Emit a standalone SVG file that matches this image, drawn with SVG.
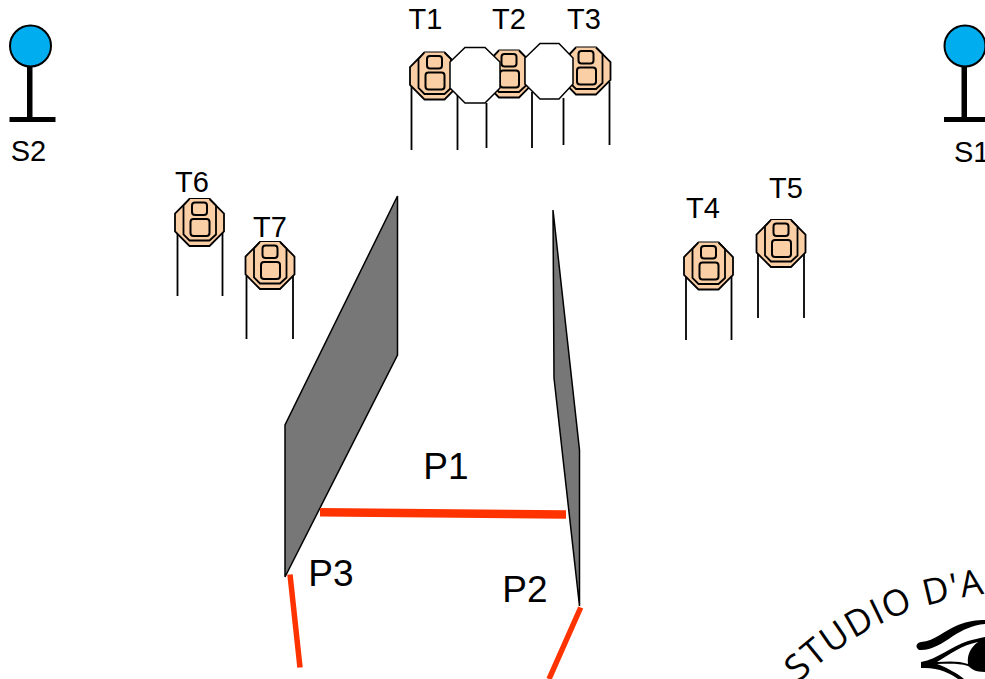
<svg xmlns="http://www.w3.org/2000/svg" width="985" height="679" viewBox="0 0 985 679">
<style>
text{font-family:"Liberation Sans",Arial,sans-serif;fill:#000}
.l{font-size:29px;text-anchor:middle}
.p{font-size:37px;text-anchor:middle}
.leg{stroke:#000;stroke-width:1.8;fill:none}
.sh{fill:#00aeef;stroke:#000;stroke-width:2}
.o{fill:#fbcfa5;stroke:#000;stroke-width:1.8}
.oct{fill:#fff;stroke:#000;stroke-width:1.5}
.red{stroke:#ff3300;fill:none}
.pan{fill:#777;stroke:#000;stroke-width:1.5}
</style>
<defs>
<g id="tom">
<polygon class="o" points="-10,-23.500 10,-23.500 24.500,-9 24.500,9 10,23.500 -10,23.500 -24.500,9 -24.500,-9"/>
<polyline class="o" points="-10,-23.500 -16,-17 -16,12 -10,18 10,18 16.500,12 16.500,-17 10,-23.500"/>
<rect class="o" x="-7.500" y="-20" width="15" height="12.500" rx="3" style="stroke-width:2"/>
<rect class="o" x="-9" y="-3.500" width="19" height="17" rx="3" style="stroke-width:2"/>
</g>
<g id="stand">
<circle class="sh" cx="0" cy="0" r="20.500"/>
<rect x="-3.500" y="20" width="5.500" height="53"/>
<rect x="-21" y="71" width="46" height="5"/>
</g>
<path id="arc" d="M792 690 C825 655 860 632 900 615 C925 604 960 597 1010 590 L1080 585"/>
</defs>
<g id="connectors">
<path class="leg" d="M411.500 85V150M457.500 94V150M486.500 103V148M532 92V148M563.500 98V145M609.500 82V145M177.500 233V296M222.500 233V296M246.500 276V339M293 276V339M686 276V340M731.500 276V340M758 254V318M804 254V318"/>
</g>
<g id="T1"><use href="#tom" x="434.500" y="76"/><text class="l" x="425.500" y="29">T1</text></g>
<g id="T2"><use href="#tom" x="509" y="74"/><text class="l" x="509" y="29">T2</text></g>
<g id="T3"><use href="#tom" x="586" y="71"/><text class="l" x="584" y="29">T3</text></g>
<g id="O1"><polygon class="oct" points="465,47.500 485,47.500 500,62 500,88 485,103 465,103 450,88 450,62"/></g>
<g id="O2"><polygon class="oct" points="540,43.500 559,43.500 573,58 573,84 559,99 540,99 525,84 525,58"/></g>
<g id="T4"><use href="#tom" x="708.500" y="266"/><text class="l" x="703" y="218">T4</text></g>
<g id="T5"><use href="#tom" x="781" y="243.500"/><text class="l" x="786" y="198">T5</text></g>
<g id="T6"><use href="#tom" x="199.500" y="222.500"/><text class="l" x="192" y="192">T6</text></g>
<g id="T7"><use href="#tom" x="270" y="265.500"/><text class="l" x="270" y="237">T7</text></g>
<g id="S2"><use href="#stand" x="30.500" y="46"/><text class="l" x="28.500" y="161">S2</text></g>
<g id="S1"><use href="#stand" x="965" y="46"/><text class="l" x="971" y="162" style="text-anchor:start" dx="-17">S1</text></g>
<g id="panels">
<polygon class="pan" points="397.500,196 397.500,355 285,577 285,425"/>
<polygon class="pan" points="553,210 579.500,450 579.500,606 554,378"/>
<path class="red" stroke-width="8.500" d="M320 512.300 L566 514.500"/>
<path class="red" stroke-width="5.500" d="M290 574.500 L300 667.500M580.700 607.500 L549 679"/>
<text class="p" x="446" y="479">P1</text>
<text class="p" x="525" y="602">P2</text>
<text class="p" x="331" y="586">P3</text>
</g>
<g id="logo">
<text font-size="36" letter-spacing="1.500" style="font-family:'Open Sans','DejaVu Sans',sans-serif"><textPath href="#arc" startOffset="10">STUDIO D'A</textPath></text>
<path d="M919 650 C915 647 916 643 921 642 C935 641 945 630 958 625 C968 621 977 620 985 620 L985 624 C972 625 963 630 953 636 C942 644 930 651 919 650Z"/>
<path d="M921 668 L921 662 C938 659 952 646 968 641 C975 639 980 638 985 637 L985 672 C975 672 972 669 968 666 C958 663 948 664 937 664 C948 668 958 674 964 679 L958 679 C950 673 938 667 921 668Z M937 662 C950 661 960 661 968 664 C967 655 970 648 978 642 C962 645 950 654 937 662Z" fill-rule="evenodd"/>
</g>
</svg>
